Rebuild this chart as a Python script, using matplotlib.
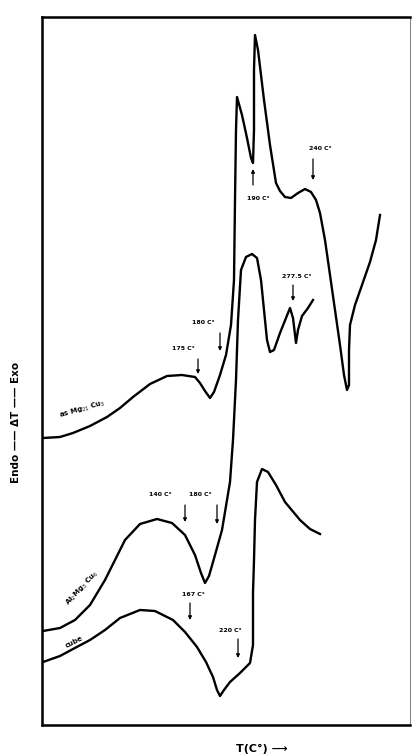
import numpy as np
import matplotlib
matplotlib.use("Agg")
import matplotlib.pyplot as plt

a_x = [1, 18, 31, 48, 65, 78, 91, 108, 125, 140, 153, 158, 163, 168, 172, 178, 184, 189, 192, 193,
       194, 195, 200, 205, 209, 211, 212, 212, 213, 216, 222, 228, 234, 238, 243, 249, 256, 263, 269,
       274, 278, 283, 288, 293, 298, 302, 305, 307, 307, 308, 313, 320, 328, 334, 338]
a_y = [287, 288, 292, 299, 308, 317, 328, 341, 349, 350, 348, 342, 334, 327, 333, 350, 370, 400,
       445, 525, 595, 628, 610, 587, 567, 562, 595, 655, 690, 675, 625, 580, 542, 534, 528, 527, 532,
       536, 533, 525, 512, 485, 450, 415, 380, 350, 335, 340, 375, 400, 420, 440, 463, 485, 510]

b_x = [1, 18, 33, 48, 63, 73, 83, 98, 115, 130, 143, 153, 159, 163, 167, 173, 180, 188, 191, 194,
       196, 199, 204, 210, 215, 219, 222, 225, 228, 232, 238, 244, 248, 251, 254, 256, 260, 266, 271]
b_y = [94, 97, 105, 120, 145, 165, 185, 201, 206, 202, 190, 170, 152, 142, 149, 170, 195, 243,
       285, 345, 405, 455, 468, 471, 467, 445, 415, 385, 373, 375, 392, 407, 417, 407, 382, 395,
       409, 417, 425]

c_x = [1, 18, 31, 48, 63, 78, 98, 113, 131, 143, 155, 164, 171, 175, 178, 182, 188, 198, 208, 211,
       211, 211, 212, 213, 215, 220, 226, 234, 243, 258, 268, 278]
c_y = [63, 69, 76, 85, 95, 107, 115, 114, 105, 93, 78, 63, 48, 35, 29, 35, 43, 52, 62, 80, 98,
       132, 165, 205, 243, 256, 253, 240, 223, 205, 196, 191]

# peak temperature marks: text, text position, arrow x, arrow start y, arrow end y
mark_text = ["175 C°", "180 C°", "190 C°", "240 C°", "277.5 C°",
             "140 C°", "180 C°", "167 C°", "220 C°"]
mark_tx = [141, 161, 216, 278, 255, 118, 158, 151, 188]
mark_ty = [377, 403, 526, 577, 449, 231, 231, 131, 95]
mark_ax = [156, 178, 211, 271, 251, 143, 175, 148, 196]
mark_y0 = [366, 392, 540, 566, 440, 220, 220, 122, 86]
mark_y1 = [351, 374, 556, 545, 424, 203, 201, 105, 67]

fig = plt.figure(figsize=(4.16, 7.55), dpi=100)
ax = fig.add_axes([42 / 416, 30 / 755, 368 / 416, 708 / 755])
ax.set_xlim(0, 368)
ax.set_ylim(0, 708)

for xs, ys in [(a_x, a_y), (b_x, b_y), (c_x, c_y)]:
    ax.plot(xs, ys, color="black", lw=1.7, solid_joinstyle="round")

for txt, tx, ty, mx, y0, y1 in zip(mark_text, mark_tx, mark_ty, mark_ax, mark_y0, mark_y1):
    ax.text(tx, ty, txt, fontsize=4.5, fontweight="bold", ha="center", va="center")
    ax.annotate("", xy=(mx, y1), xytext=(mx, y0),
                arrowprops=dict(arrowstyle="-|>", lw=0.9, color="black", mutation_scale=5,
                                shrinkA=0, shrinkB=0))

ax.text(40, 315, "as Mg$_{21}$ Cu$_3$", fontsize=5, fontweight="bold", rotation=16,
        ha="center", va="center")
ax.text(40, 137, "Al$_2$Mg$_3$ Cu$_6$", fontsize=5, fontweight="bold", rotation=47,
        ha="center", va="center")
ax.text(32, 83, "cube", fontsize=5, fontweight="bold", rotation=27,
        ha="center", va="center")

ax.set_xticks([])
ax.set_yticks([])
for side in ["left", "top", "bottom"]:
    ax.spines[side].set_linewidth(1.8)
ax.spines["right"].set_linewidth(0.8)
ax.spines["right"].set_color("#888888")

fig.text(16 / 416, 1 - 422 / 755, "Endo —— ΔT —— Exo", rotation=90, fontsize=7.5,
         fontweight="bold", ha="center", va="center")
fig.text(262 / 416, 1 - 749 / 755, "T(C°) ⟶", fontsize=8, fontweight="bold",
         ha="center", va="center")

fig.savefig("out.png", dpi=100)
